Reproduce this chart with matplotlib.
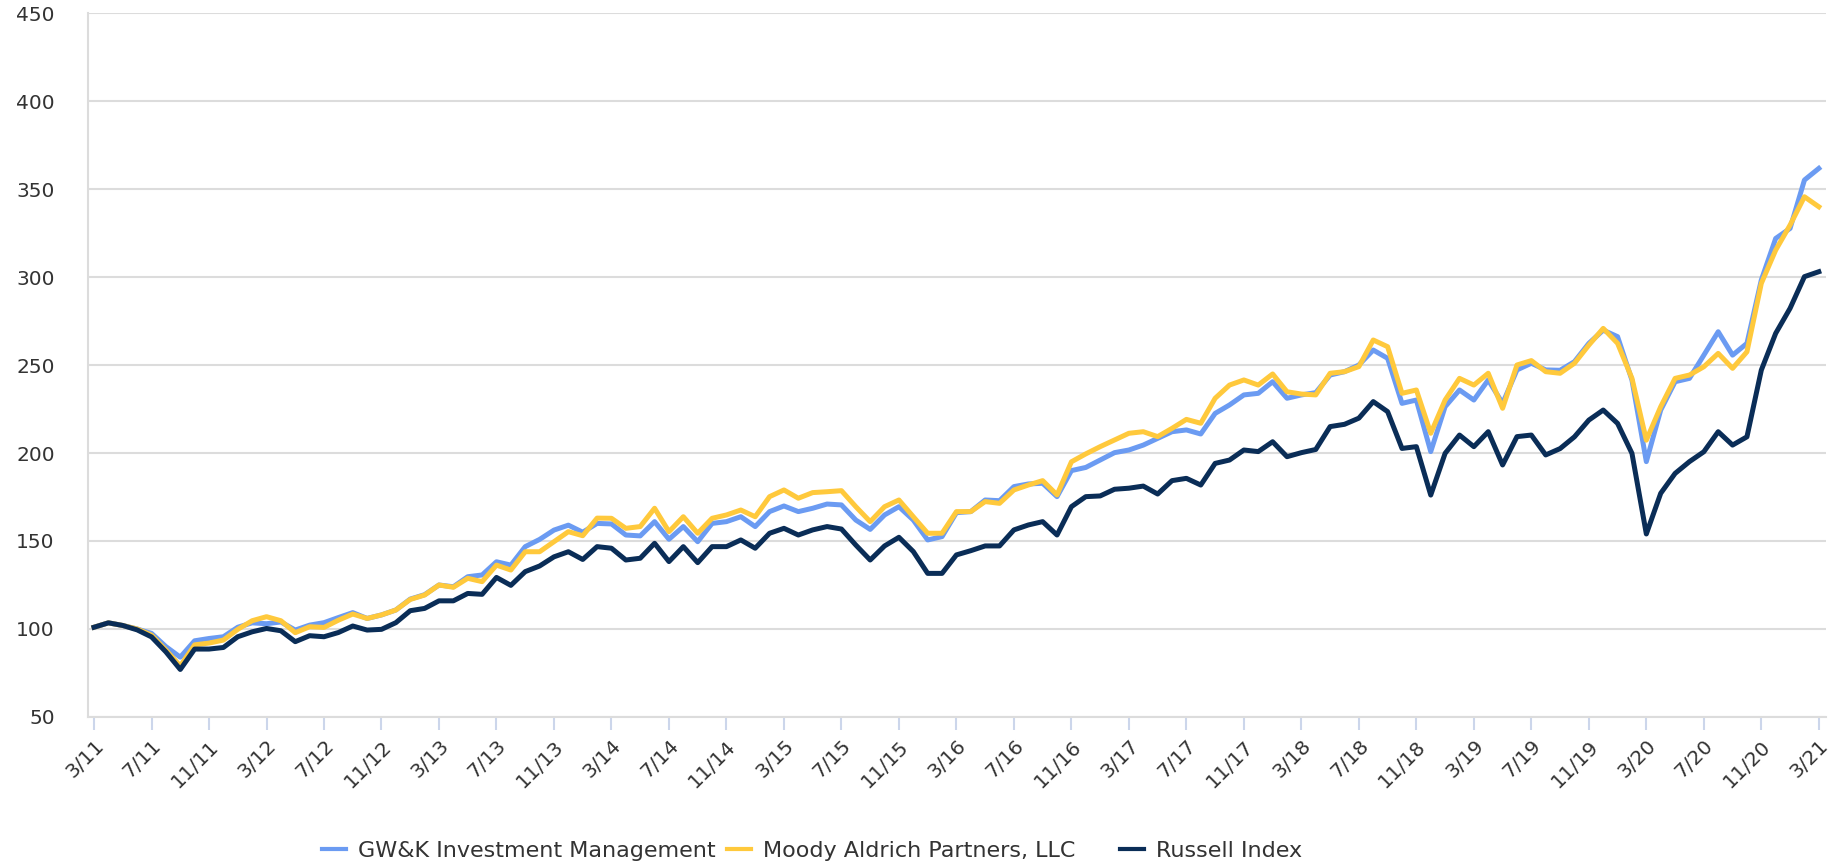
import numpy as np
import matplotlib
matplotlib.use("Agg")
import matplotlib.pyplot as plt

# monthly index values, 3/11 .. 3/21
gwk = [101, 103.5, 102, 100, 97.5, 90, 84, 93.3, 94.6, 95.6,
       101, 103.5, 103, 104, 99.4, 102.2, 103.6, 106.5, 109.3, 106,
       108, 110.8, 117, 119.5, 125, 124, 129.7, 130.7, 138.2, 136.3,
       146.8, 150.9, 156.2, 159, 155, 160, 159.7, 153.4, 152.9, 161,
       151, 158.2, 149.6, 160, 161, 163.8, 158.2, 166.7, 169.9, 166.7,
       168.6, 171, 170.5, 161.9, 156.6, 164.8, 169.5, 161.9, 150.6, 152.5,
       166.1, 166.7, 173.3, 172.9, 180.9, 182.4, 182.8, 175.2, 190, 191.8,
       196, 200.2, 201.7, 204.5, 208.3, 212.1, 213.1, 210.8, 222.5, 227.3,
       233, 233.9, 240.5, 231.1, 233, 234.3, 244.3, 246.2, 250, 258.5,
       253.8, 228.2, 230.1, 200.8, 226.3, 235.8, 230.1, 241.5, 228.2, 247.2,
       251, 247.2, 247, 251.9, 262.3, 269.8, 266.1, 241.4, 195.1, 224.4,
       240.5, 242.4, 255.6, 268.9, 255.6, 262.3, 298.3, 321.9, 327.6, 355.1,
       361.7]

moody = [101, 103.5, 102, 100, 96.5, 88, 79, 91, 92, 93.7,
         99.8, 104.7, 107, 104.7, 97.9, 101.3, 100.9, 105, 108.5, 106,
         108, 110.8, 116.8, 119.3, 125, 123.7, 128.8, 126.9, 136.3, 133.5,
         143.9, 143.9, 149.6, 155.3, 153, 163, 162.9, 157.2, 158.2, 168.6,
         155.3, 163.8, 154.4, 162.9, 164.8, 167.6, 163.8, 175.2, 179, 174.3,
         177.5, 178, 178.6, 169.5, 161, 169.5, 173.3, 163.8, 154.4, 154.4,
         166.7, 166.7, 172.4, 171.4, 179, 181.8, 184.3, 176.2, 195, 199.5,
         203.6, 207.4, 211.2, 212.1, 209.3, 214, 219.1, 216.9, 231.1, 238.6,
         241.5, 238.6, 244.9, 234.8, 233.5, 233, 245.3, 246.2, 249.1, 264.2,
         260.4, 233.9, 235.8, 211.2, 230.1, 242.4, 238.6, 245.3, 225.4, 250,
         252.5, 246.2, 245.3, 251, 261.3, 270.8, 262.3, 242.4, 207.3, 226.3,
         242.4, 244.3, 249, 256.6, 248.1, 257.5, 296.4, 315.3, 329.5, 345.6,
         339.9]

russell = [101, 103.5, 102, 99.5, 95.5, 87, 77, 88.6, 88.6, 89.5,
           95.6, 98.4, 100.3, 99, 92.8, 96.2, 95.6, 98, 101.7, 99.4,
           99.8, 103.6, 110.4, 111.7, 116, 116, 120.2, 119.7, 129.3, 124.8,
           132.6, 135.8, 141, 143.9, 139.5, 146.8, 145.9, 139.2, 140.2, 148.7,
           138.3, 146.8, 137.7, 146.8, 146.8, 150.6, 145.9, 154.4, 157.2, 153.4,
           156.3, 158.2, 156.8, 147.7, 139.2, 147.2, 152.1, 144, 131.6, 131.6,
           142.1, 144.5, 147.2, 147.2, 156.3, 159.1, 161, 153.4, 169.5, 175.2,
           175.6, 179.4, 180, 181.2, 176.7, 184.3, 185.6, 181.8, 194.1, 196,
           201.7, 200.8, 206.4, 197.9, 200.2, 202, 215, 216.3, 219.8, 229.2,
           223.5, 202.6, 203.6, 176.1, 199.8, 210.2, 203.6, 212.1, 193.2, 209.3,
           210.2, 198.9, 202.5, 209.2, 218.7, 224.4, 216.8, 199.8, 154, 177.1,
           188.4, 195.1, 200.7, 212.1, 204.5, 209.2, 247.1, 268, 282.2, 300.2,
           303]

tick_labels = ["3/11", "7/11", "11/11", "3/12", "7/12", "11/12", "3/13", "7/13",
               "11/13", "3/14", "7/14", "11/14", "3/15", "7/15", "11/15", "3/16",
               "7/16", "11/16", "3/17", "7/17", "11/17", "3/18", "7/18", "11/18",
               "3/19", "7/19", "11/19", "3/20", "7/20", "11/20", "3/21"]

names = ["GW&K Investment Management", "Moody Aldrich Partners, LLC", "Russell Index"]
colors = ["#6b9bf2", "#ffc93c", "#0a2d57"]

x = np.arange(len(gwk))

fig = plt.figure(figsize=(18.41, 8.66), dpi=100)
ax = fig.add_axes([88/1841, 1-717/866, (1826-88)/1841, (717-13)/866])

lines = []
for s, n, c in zip([gwk, moody, russell], names, colors):
    l, = ax.plot(x, s, color=c, lw=3.6, label=n)
    lines.append(l)

ax.set_ylim(50, 450)
ax.set_xlim(-0.42, 120.5)
ax.set_yticks(np.arange(50, 451, 50))
ax.set_xticks(np.arange(0, 121, 4))
ax.set_xticklabels(tick_labels, rotation=45, ha="right", va="top",
                   rotation_mode="anchor", fontsize=14.5, color="#333333")
ax.tick_params(axis="x", length=9, width=1.5, color="#ccd6eb", pad=5)
ax.tick_params(axis="y", length=0, pad=24, labelsize=14.5, labelcolor="#333333")
ax.grid(axis="y", color="#dcdcdc", lw=1.5)
ax.set_axisbelow(True)
for sp in ["top", "right"]:
    ax.spines[sp].set_visible(False)
ax.spines["left"].set_color("#dcdcdc")
ax.spines["left"].set_linewidth(1.5)
ax.spines["bottom"].set_color("#dcdcdc")
ax.spines["bottom"].set_linewidth(1.5)

# legend items placed one by one, like the original
leg_x = [322, 727, 1120]
for l, lx in zip(lines, leg_x):
    leg = fig.legend(handles=[l], loc="center left", bbox_to_anchor=(lx/1841, 1-851/866),
                     frameon=False, fontsize=16, handlelength=1.1, handletextpad=0.5,
                     borderaxespad=0, borderpad=0, labelcolor="#333333")
    leg.get_lines()[0].set_linewidth(3)

fig.savefig("out.png", dpi=100)
